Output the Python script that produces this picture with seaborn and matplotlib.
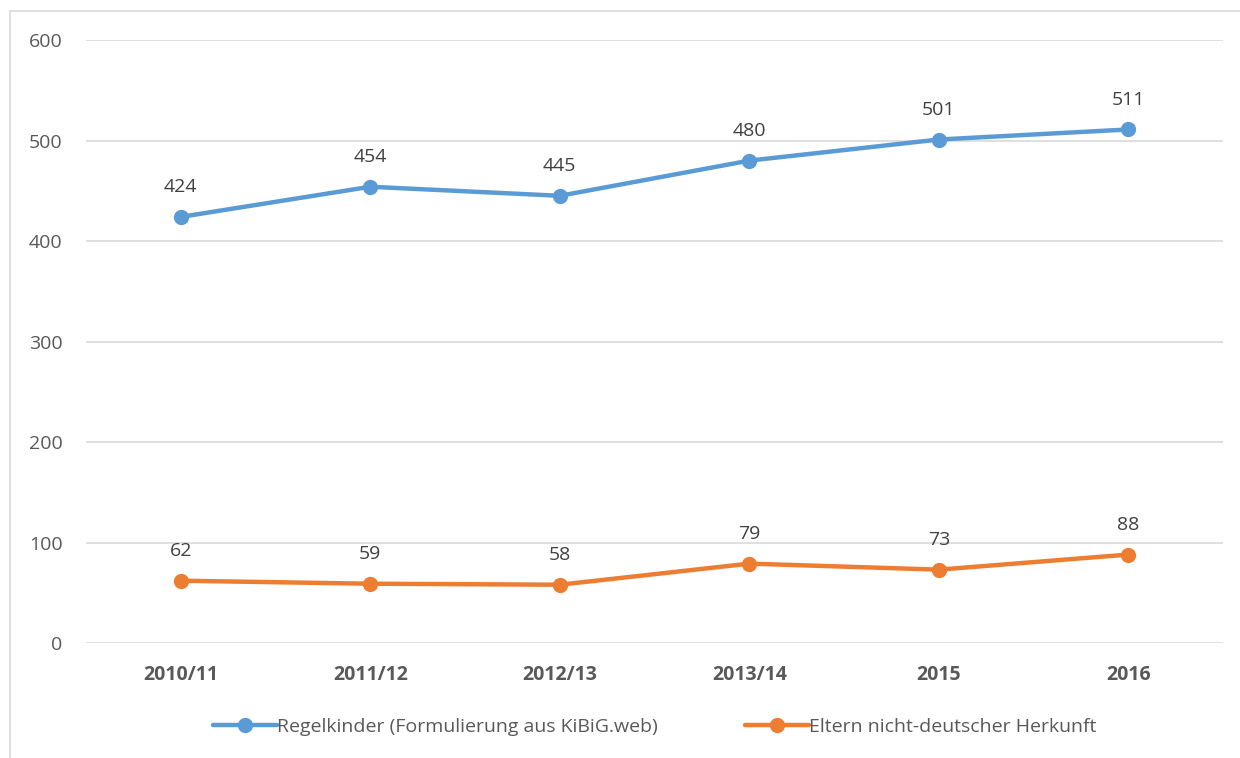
import pandas as pd
import matplotlib.pyplot as plt
import seaborn as sns
from matplotlib.patches import Rectangle

years = ["2010/11", "2011/12", "2012/13", "2013/14", "2015", "2016"]
regelkinder = [424, 454, 445, 480, 501, 511]
eltern_ndh = [62, 59, 58, 79, 73, 88]
series_names = ["Regelkinder (Formulierung aus KiBiG.web)", "Eltern nicht-deutscher Herkunft"]
colors = ["#5B9BD5", "#ED7D31"]

df = pd.DataFrame({
    "Jahr": years * 2,
    "Wert": regelkinder + eltern_ndh,
    "Reihe": [series_names[0]] * len(years) + [series_names[1]] * len(years),
})

sns.set_theme(style="white")
plt.rcParams["font.family"] = ["Open Sans", "DejaVu Sans"]

fig = plt.figure(figsize=(12.4, 7.58), dpi=100)
ax = fig.add_axes([0.0694, 0.1517, 0.9169, 0.7955])

sns.lineplot(data=df, x="Jahr", y="Wert", hue="Reihe", palette=colors,
             marker="o", markersize=11, markeredgewidth=0, linewidth=3.2,
             sort=False, ax=ax)

# data labels
for vals in (regelkinder, eltern_ndh):
    for i, v in enumerate(vals):
        ax.annotate(str(v), (i, v), xytext=(0, 15), textcoords="offset points",
                    ha="center", va="bottom", fontsize=14, color="#404040")

ax.set_ylim(0, 600)
ax.set_xlim(-0.5, len(years) - 0.5)
ax.set_yticks(range(0, 601, 100))
ax.yaxis.grid(True, color="#D9D9D9", linewidth=1.2)
ax.xaxis.grid(False)
for s in ax.spines.values():
    s.set_visible(False)
ax.tick_params(axis="y", length=0, pad=17, labelsize=14, labelcolor="#595959")
ax.tick_params(axis="x", length=0, pad=16, labelsize=14, labelcolor="#595959")
for lbl in ax.get_xticklabels():
    lbl.set_fontweight("bold")
ax.set_xlabel("")
ax.set_ylabel("")

ax.legend(loc="upper center", bbox_to_anchor=(0.5, -0.095), ncol=2, frameon=False,
          fontsize=14, handlelength=3.3, handletextpad=0.0, columnspacing=4.5,
          labelcolor="#595959")

# chart border (only top/left visible in the crop)
fig.patches.append(Rectangle((10 / 1240, -0.1), 1.2, (758 - 11) / 758 + 0.1,
                             transform=fig.transFigure, fill=False,
                             edgecolor="#D9D9D9", linewidth=1.2))

fig.savefig("out.png", dpi=100)
